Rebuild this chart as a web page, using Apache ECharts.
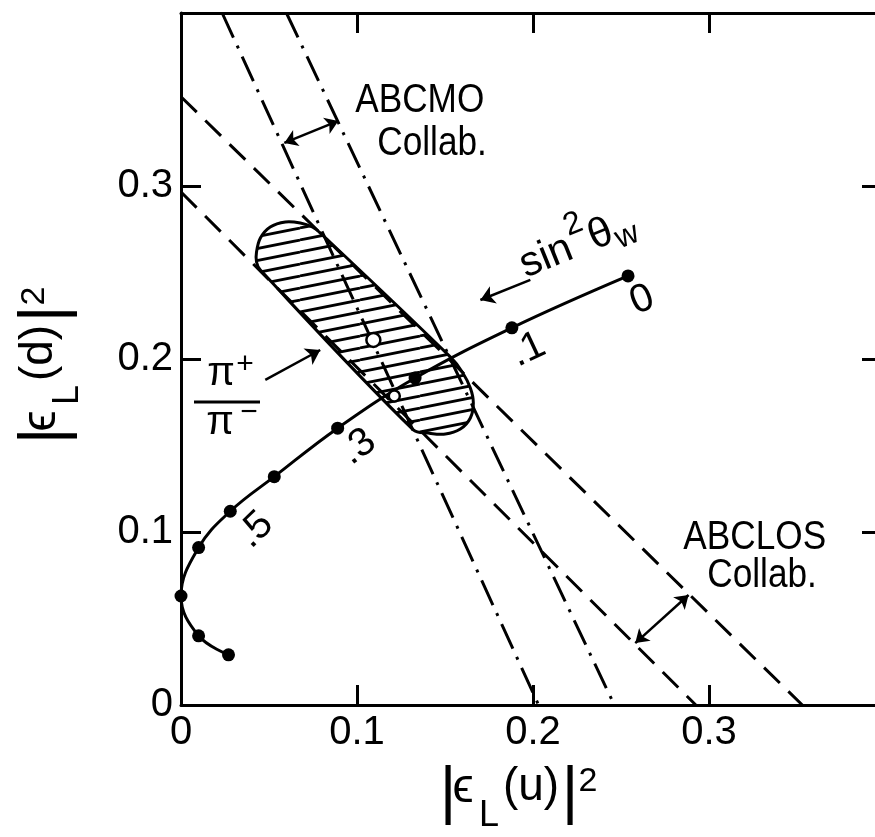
<!DOCTYPE html>
<html>
<head>
<meta charset="utf-8">
<script src="https://cdn.jsdelivr.net/npm/echarts@6/dist/echarts.min.js"></script>
<style>html,body{margin:0;padding:0;background:#fff}#c{width:875px;height:837px}</style>
</head>
<body>
<div id="c"></div>
<script>
// ---------------- data ----------------
const xTickLabels = ['0', '0.1', '0.2', '0.3', ''];
const yTickLabels = ['0', '0.1', '0.2', '0.3', ''];

// sin^2(theta_W) curve: parameter values and the marked points
const sinSq  = [0, 0.1, 0.2, 0.3, 0.4, 0.5, 0.6, 0.75, 0.9, 1.0];
const curveU = [0.254, 0.188, 0.133, 0.089, 0.053, 0.028, 0.010, 0.000, 0.010, 0.027];
const curveD = [0.248, 0.218, 0.189, 0.160, 0.132, 0.112, 0.091, 0.063, 0.040, 0.029];
const curveLabels = ['0', '.1', '', '.3', '', '.5', '', '', '', ''];

// hatched pi+/pi- allowed region (outline)
const regionU = [0.0429, 0.0451, 0.0507, 0.0593, 0.0678, 0.0746, 0.0792, 0.1530, 0.1598, 0.1644, 0.1661, 0.1644, 0.1587, 0.1502, 0.1405, 0.1320, 0.0451, 0.0429];
const regionD = [0.2618, 0.2699, 0.2763, 0.2792, 0.2786, 0.2763, 0.2728, 0.2012, 0.1925, 0.1832, 0.1746, 0.1659, 0.1595, 0.1566, 0.1572, 0.1590, 0.2514, 0.2561];

// ABCLOS bounds (dashed) and ABCMO bounds (dash-dot)
const abclosLow  = [[0, 0.2965], [0.2925, 0]];
const abclosHigh = [[0, 0.3516], [0.353, 0]];
const abcmoLow   = [[0.0234, 0.4], [0.2032, 0]];
const abcmoHigh  = [[0.0599, 0.4], [0.2462, 0]];

// open circles inside the region
const fitU = [0.1093, 0.1212];
const fitD = [0.2110, 0.1786];
const fitSize = [14, 11];

// arrows
const abcmoSpan  = [[0.0587, 0.3249], [0.0894, 0.3376]];
const abclosSpan = [[0.2581, 0.0358], [0.2884, 0.0636]];
const sinArrow   = [[0.1985, 0.2457], [0.1701, 0.2341]];
const piArrow    = [[0.0479, 0.1879], [0.0791, 0.2052]];

// ---------------- chart ----------------
const FONT = '"Liberation Sans", "DejaVu Sans", sans-serif';
const chart = echarts.init(document.getElementById('c'), null, {renderer: 'canvas'});

// hatch pattern
const pat = document.createElement('canvas');
pat.width = 60; pat.height = 12;
(function () {
  const g = pat.getContext('2d');
  g.strokeStyle = '#000'; g.lineWidth = 2.8;
  [-12, 0, 12].forEach(o => { g.beginPath(); g.moveTo(0, 12 + o); g.lineTo(60, o); g.stroke(); });
})();

const axisBase = {
  type: 'value', min: 0, max: 0.4, interval: 0.1,
  splitLine: {show: false},
  axisLine: {show: true, onZero: false, lineStyle: {color: '#000', width: 3}},
  axisTick: {show: true, inside: true, length: 20, lineStyle: {color: '#000', width: 3}}
};
const labelBase = {show: true, color: '#000', fontSize: 40, fontFamily: FONT, margin: 8};

const option = {
  animation: false,
  backgroundColor: '#fff',
  grid: {left: 181, top: 13, width: 704, height: 692, outerBoundsMode: 'none', containLabel: false},
  xAxis: [
    Object.assign({}, axisBase, {position: 'bottom',
      axisLabel: Object.assign({}, labelBase, {formatter: v => xTickLabels[Math.round(v * 10)] || ''})}),
    Object.assign({}, axisBase, {position: 'top', axisLabel: {show: false}})
  ],
  yAxis: [
    Object.assign({}, axisBase, {position: 'left',
      axisLabel: Object.assign({}, labelBase, {formatter: v => yTickLabels[Math.round(v * 10)] || ''})}),
    Object.assign({}, axisBase, {position: 'right', axisLabel: {show: false},
      axisTick: {show: true, inside: true, length: 23, lineStyle: {color: '#000', width: 3}}})
  ],
  series: [
    {
      type: 'custom', name: 'pi+/pi- region', coordinateSystem: 'cartesian2d', silent: true, z: 1,
      data: [[regionU[0], regionD[0]]],
      renderItem: function (params, api) {
        const pts = regionU.map((u, i) => api.coord([u, regionD[i]]));
        return {type: 'polygon', shape: {points: pts, smooth: 0.35},
          style: {fill: {image: pat, repeat: 'repeat'}, stroke: '#000', lineWidth: 3}};
      }
    },
    {type: 'line', name: 'ABCLOS low', data: abclosLow, showSymbol: false, silent: true, z: 2,
      lineStyle: {color: '#000', width: 3, type: [22, 12]}},
    {type: 'line', name: 'ABCLOS high', data: abclosHigh, showSymbol: false, silent: true, z: 2,
      lineStyle: {color: '#000', width: 3, type: [22, 12]}},
    {type: 'line', name: 'ABCMO low', data: abcmoLow, showSymbol: false, silent: true, z: 2,
      lineStyle: {color: '#000', width: 3, type: [27, 9, 3, 9]}},
    {type: 'line', name: 'ABCMO high', data: abcmoHigh, showSymbol: false, silent: true, z: 2,
      lineStyle: {color: '#000', width: 3, type: [27, 9, 3, 9]}},
    {type: 'line', name: 'sin2thetaW', data: curveU.map((u, i) => [u, curveD[i], sinSq[i]]),
      smooth: 0.4, symbol: 'circle', symbolSize: 13, showSymbol: true, silent: true, z: 3,
      itemStyle: {color: '#000'}, lineStyle: {color: '#000', width: 3}},
    {type: 'scatter', name: 'fits', data: fitU.map((u, i) => ({value: [u, fitD[i]], symbolSize: fitSize[i]})),
      symbol: 'circle', silent: true, z: 5,
      itemStyle: {color: '#fff', borderColor: '#000', borderWidth: 2.5, opacity: 1}},
    {type: 'lines', coordinateSystem: 'cartesian2d', silent: true, z: 6,
      symbol: ['arrow', 'arrow'], symbolSize: 13,
      lineStyle: {color: '#000', width: 2.5, opacity: 1},
      data: [{coords: abcmoSpan}, {coords: abclosSpan}]},
    {type: 'lines', coordinateSystem: 'cartesian2d', silent: true, z: 6,
      symbol: ['none', 'arrow'], symbolSize: 14,
      lineStyle: {color: '#000', width: 2.5, opacity: 1},
      data: [{coords: sinArrow}, {coords: piArrow}]}
  ]
};
chart.setOption(option);

// ---------------- annotations ----------------
const T = (text, size, align, extra) => Object.assign({
  text: text, font: size + 'px ' + FONT, fill: '#000',
  align: align, verticalAlign: 'middle', textAlign: align, textVerticalAlign: 'middle'
}, extra || {});
const P = (u, d) => chart.convertToPixel({gridIndex: 0}, [u, d]);
const deg = a => a * Math.PI / 180;

// label anchors (data coords) for texts along the curve
const curveLabelAt = {'0': [0.2621, 0.2341, 22], '.1': [0.1973, 0.2052, 25], '.3': [0.1007, 0.1491, 36], '.5': [0.0422, 0.1012, 44]};

const graphics = [];
curveLabels.forEach(t => {
  if (!t) return;
  const a = curveLabelAt[t];
  const p = P(a[0], a[1]);
  graphics.push({type: 'text', x: p[0], y: p[1], rotation: deg(a[2]), z: 10, style: T(t, 40, 'center')});
});

function axisTitle(letter) {
  return [
    {type: 'text', x: -77, y: -6, style: T('|', 64, 'center')},
    {type: 'text', x: -62, y: -11, style: T('ϵ', 48, 'center')},
    {type: 'text', x: -36, y: 16, style: T('L', 36, 'center')},
    {type: 'text', x: 6, y: -13, style: T('(' + letter + ')', 46, 'center')},
    {type: 'text', x: 45, y: -6, style: T('|', 64, 'center')},
    {type: 'text', x: 63, y: -18, style: T('2', 34, 'center')}
  ];
}
graphics.push({type: 'group', x: 525, y: 800, children: axisTitle('u')});
graphics.push({type: 'group', x: 52.5, y: 359, rotation: deg(90), children: axisTitle('d')});

// collaboration labels
const textAt = [
  ['ABCMO', 0.0990, 0.3491], ['Collab.', 0.1115, 0.3243],
  ['ABCLOS', 0.2854, 0.0965], ['Collab.', 0.2990, 0.0746]
];
textAt.forEach(r => {
  const p = P(r[1], r[2]);
  graphics.push({type: 'text', x: p[0], y: p[1], scaleX: 0.88, z: 10, style: T(r[0], 40, 'left')});
});

// sin^2 theta_W label
const sp = P(0.1966, 0.2451);
graphics.push({type: 'group', x: sp[0], y: sp[1], rotation: deg(22), z: 10, children: [
  {type: 'text', x: 0, y: -15, style: T('sin', 42, 'left')},
  {type: 'text', x: 55, y: -35, style: T('2', 32, 'left')},
  {type: 'text', x: 74, y: -15, style: T('θ', 42, 'left')},
  {type: 'text', x: 98, y: -4, style: T('w', 32, 'left')}
]});

// pi+ / pi- fraction
graphics.push({type: 'group', x: 0, y: 0, z: 10, children: [
  {type: 'text', x: 221, y: 374, style: T('π', 40, 'center')},
  {type: 'text', x: 245, y: 365, style: T('+', 30, 'center')},
  {type: 'line', shape: {x1: 194, y1: 402, x2: 260, y2: 402}, style: {stroke: '#000', lineWidth: 3}},
  {type: 'text', x: 220, y: 423, style: T('π', 40, 'center')},
  {type: 'text', x: 249, y: 413, style: T('−', 30, 'center')}
]});

chart.setOption({graphic: {elements: graphics}});
</script>
</body>
</html>
